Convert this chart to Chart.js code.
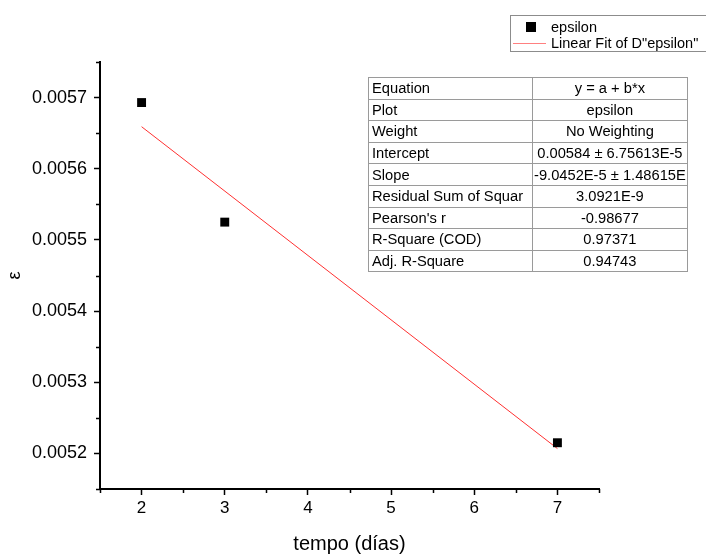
<!DOCTYPE html>
<html>
<head>
<meta charset="utf-8">
<script src="https://cdn.jsdelivr.net/npm/chart.js@4.4.0/dist/chart.umd.min.js"></script>
<style>
  html, body { margin: 0; padding: 0; background: #fff; }
  #wrap { position: relative; width: 707px; height: 554px; font-family: "Liberation Sans", Arial, sans-serif; }
  #chart { position: absolute; left: 0; top: 0; }
  #legend {
    position: absolute; left: 510px; top: 15px; width: 196px; height: 37px;
    border: 1px solid #8c8c8c; border-right: none; box-sizing: border-box;
    font-size: 14.5px; color: #000;
  }
  #legend .row { position: absolute; left: 0; height: 16px; line-height: 16px; white-space: nowrap; }
  #legend .sq { position: absolute; left: 15px; top: 3px; width: 10px; height: 10px; background: #000; }
  #legend .ln { position: absolute; left: 2px; top: 8px; width: 33px; height: 0; border-top: 1px solid #ff8080; }
  #legend .txt { position: absolute; left: 40px; top: 0; }
  #stats {
    position: absolute; left: 368px; top: 77px; border-collapse: collapse; table-layout: fixed;
    font-size: 14.7px; color: #000;
  }
  #stats td {
    border: 1px solid #9a9a9a; height: 20.6px; padding: 0 3px; overflow: hidden; white-space: nowrap;
    line-height: 16px;
  }
  #stats td.k { width: 157px; text-align: left; }
  #stats td.v { width: 147px; text-align: center; padding: 0 1px; }
</style>
</head>
<body>
<div id="wrap">
  <canvas id="chart" width="707" height="554"></canvas>
  <div id="legend">
    <div class="row" style="top:3px"><span class="sq"></span><span class="txt">epsilon</span></div>
    <div class="row" style="top:19px"><span class="ln"></span><span class="txt">Linear Fit of D"epsilon"</span></div>
  </div>
  <table id="stats"></table>
</div>
<script>
// ====== Data ======
const days = [2, 3, 7];
const epsilon = [0.005693, 0.005525, 0.005215];
const fitDays = [2, 7];
const fitEpsilon = [0.0056591, 0.0052068];   // a + b*x with a = 0.00584, b = -9.0452E-5

const xTicks = [2, 3, 4, 5, 6, 7];
const xMinor = [1.5, 2.5, 3.5, 4.5, 5.5, 6.5, 7.5];
const yTicks = [0.0052, 0.0053, 0.0054, 0.0055, 0.0056, 0.0057];
const yMinor = [0.00515, 0.00525, 0.00535, 0.00545, 0.00555, 0.00565, 0.00575];

const statKeys = ["Equation", "Plot", "Weight", "Intercept", "Slope", "Residual Sum of Squar",
  "Pearson's r", "R-Square (COD)", "Adj. R-Square"];
const statVals = ["y = a + b*x", "epsilon", "No Weighting", "0.00584 \u00b1 6.75613E-5",
  "-9.0452E-5 \u00b1 1.48615E", "3.0921E-9", "-0.98677", "0.97371", "0.94743"];

// ====== Fit table ======
const stats = document.getElementById("stats");
statKeys.forEach((k, i) => {
  const tr = document.createElement("tr");
  tr.innerHTML = `<td class="k">${k}</td><td class="v">${statVals[i]}</td>`;
  stats.appendChild(tr);
});

// ====== Minor ticks ======
const minorTicks = {
  id: "minorTicks",
  afterDraw(chart) {
    const { ctx, chartArea: a, scales: { x, y } } = chart;
    ctx.save();
    ctx.strokeStyle = "#000";
    ctx.lineWidth = 1.5;
    ctx.beginPath();
    xMinor.forEach(v => {
      const px = Math.round(x.getPixelForValue(v)) + 0.5;
      ctx.moveTo(px, a.bottom); ctx.lineTo(px, a.bottom + 4);
    });
    yMinor.forEach(v => {
      const py = Math.round(y.getPixelForValue(v)) + 0.5;
      ctx.moveTo(a.left - 4, py); ctx.lineTo(a.left, py);
    });
    ctx.stroke();
    ctx.restore();
  }
};

// ====== Chart ======
const family = "'Liberation Sans', Arial, sans-serif";
const axisCommon = {
  grid: { display: true, drawOnChartArea: false, drawTicks: true, tickLength: 6, tickColor: "#000", tickWidth: 1.5 },
  border: { display: true, color: "#000", width: 2 }
};

new Chart(document.getElementById("chart"), {
  type: "scatter",
  data: {
    datasets: [
      {
        label: "epsilon",
        data: days.map((d, i) => ({ x: d, y: epsilon[i] })),
        pointStyle: "rect",
        pointRadius: 6.3,
        backgroundColor: "#000",
        borderColor: "#000",
        borderWidth: 0,
        order: 1
      },
      {
        label: 'Linear Fit of D"epsilon"',
        type: "line",
        data: fitDays.map((d, i) => ({ x: d, y: fitEpsilon[i] })),
        borderColor: "#ff3030",
        borderWidth: 1,
        pointRadius: 0,
        fill: false,
        order: 2
      }
    ]
  },
  options: {
    responsive: false,
    animation: false,
    devicePixelRatio: 1,
    layout: { padding: { left: 0, top: 62, right: 108, bottom: 0 } },
    plugins: { legend: { display: false }, tooltip: { enabled: false } },
    scales: {
      x: {
        ...axisCommon,
        type: "linear",
        min: 1.5, max: 7.5,
        afterBuildTicks: s => { s.ticks = xTicks.map(v => ({ value: v })); },
        afterFit: s => { s.height = 65; },
        ticks: { color: "#000", font: { family, size: 17 }, padding: 3, maxRotation: 0, callback: v => String(v) },
        title: { display: true, text: "tempo (días)", color: "#000", font: { family, size: 20, lineHeight: 1 }, padding: { top: 0, bottom: 0 } }
      },
      y: {
        ...axisCommon,
        type: "linear",
        min: 0.00515, max: 0.00575,
        afterBuildTicks: s => { s.ticks = yTicks.map(v => ({ value: v })); },
        afterFit: s => { s.width = 100; },
        ticks: { color: "#000", font: { family, size: 18 }, padding: 7, callback: v => v.toFixed(4) },
        title: { display: true, text: "ε", color: "#000", font: { family, size: 18 }, padding: { top: 4, bottom: 0 } }
      }
    }
  },
  plugins: [minorTicks]
});
</script>
</body>
</html>
